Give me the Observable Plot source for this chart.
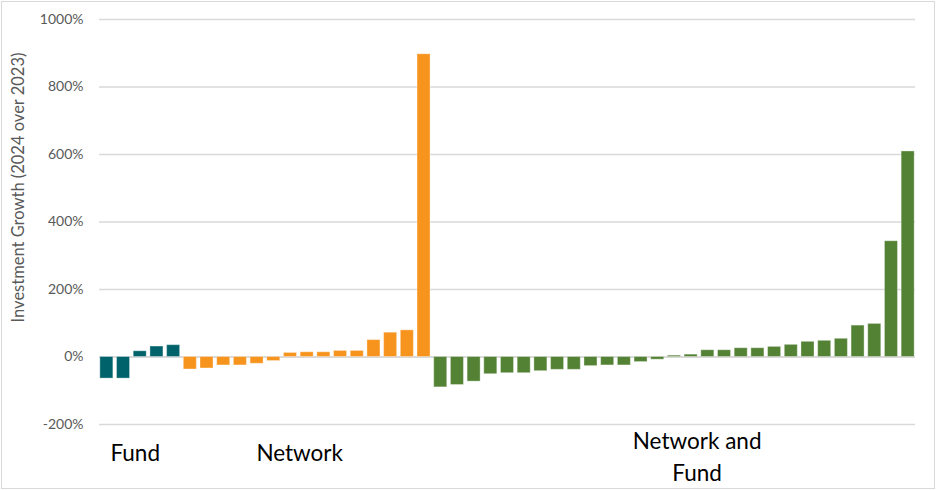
<!DOCTYPE html>
<html>
<head>
<meta charset="utf-8">
<script src="https://cdn.jsdelivr.net/npm/d3@7"></script>
<script src="https://cdn.jsdelivr.net/npm/@observablehq/plot@0.6"></script>
<style>
  html, body { margin: 0; padding: 0; background: #fff; }
  #chart svg { display: block; outline: 1.5px solid #d9d9d9; outline-offset: -2.5px; }
</style>
</head>
<body>
<div id="chart"></div>
<script>
const groups = ["Fund", "Network", "Network and Fund"];
const groupColors = ["#00636B", "#F7941D", "#548235"];
const fundValues = [-64, -64, 17, 31, 35];
const networkValues = [-37, -34, -25, -25, -20, -12, 12, 14, 14, 18, 18, 50, 72, 79, 897];
const networkFundValues = [-90, -83, -73, -51, -48, -48, -42, -38, -38, -27, -25, -25, -15, -8, 4,
  7, 20, 20, 26, 26, 30, 36, 45, 48, 54, 93, 98, 343, 609];
const yTicks = [-200, 0, 200, 400, 600, 800, 1000];
const yTitle = "Investment Growth (2024 over 2023)";

const series = [fundValues, networkValues, networkFundValues];
const data = [];
series.forEach((vals, g) => vals.forEach((v) => {
  data.push({ id: data.length, group: groups[g], value: v });
}));
const ids = data.map(d => d.id);

// group labels anchored at a bar inside each group
const labelFund = [{ id: 2, text: "Fund", y: -288 }];
const labelNetwork = [{ id: 12, text: "Network", y: -288 }];
const labelBoth = [
  { id: 35, text: "Network and", y: -250 },
  { id: 35, text: "Fund", y: -345 }
];
const labelStyle = { x: "id", y: "y", text: "text", fontSize: 22.5, fill: "#000", textAnchor: "middle" };

const chart = Plot.plot({
  width: 936,
  height: 490,
  marginTop: 19,
  marginBottom: 66,
  marginLeft: 99,
  marginRight: 21,
  style: { fontFamily: "Lato, 'Open Sans', sans-serif", background: "#fff" },
  x: { type: "band", domain: ids, paddingInner: 0.22, paddingOuter: 0.05, round: false, axis: null },
  y: { domain: [-200, 1000], ticks: yTicks, label: null },
  color: { domain: groups, range: groupColors },
  marks: [
    Plot.ruleY(yTicks.filter(t => t !== 0), { stroke: "#d9d9d9", strokeWidth: 1.3 }),
    Plot.ruleY([0], { stroke: "#d9d9d9", strokeWidth: 2 }),
    Plot.barY(data, { x: "id", y: "value", fill: "group", stroke: "#ffffff", strokeOpacity: 0.35, strokeWidth: 1 }),
    Plot.axisY({ ticks: yTicks, tickSize: 0, tickPadding: 16, tickFormat: d => d + "%", fontSize: 14, color: "#595959", label: null }),
    Plot.text([yTitle], { frameAnchor: "left", textAnchor: "middle", dx: -81, dy: -34.5, rotate: -90, fontSize: 16.5, fill: "#595959", text: d => d }),
    Plot.text(labelFund, { ...labelStyle, dx: -5 }),
    Plot.text(labelNetwork, { ...labelStyle, dx: -7.5 }),
    Plot.text(labelBoth, { ...labelStyle, dx: 6 })
  ]
});
document.getElementById("chart").appendChild(chart);
</script>
</body>
</html>
